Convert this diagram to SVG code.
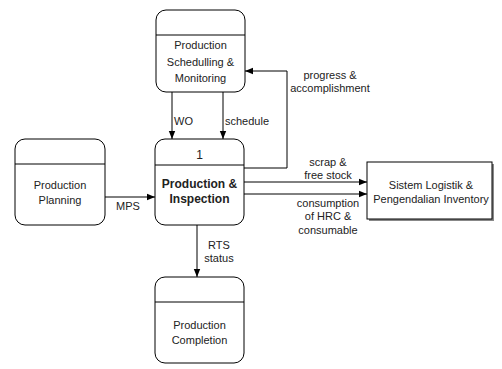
<svg xmlns="http://www.w3.org/2000/svg" width="502" height="369" viewBox="0 0 502 369">
<defs>
<marker id="ah" viewBox="0 0 10 10" refX="10" refY="5" markerWidth="8" markerHeight="8" markerUnits="userSpaceOnUse" orient="auto"><path d="M0,1 L10,5 L0,9 Z" fill="#000"/></marker>
</defs>
<style>
.box{fill:#fff;stroke:#000;stroke-width:1}
.t{font-family:"Liberation Sans",Arial,sans-serif;font-size:11px;fill:#222;text-anchor:middle}
.s{text-anchor:start}
.b{font-weight:bold;font-size:12px}
.c{fill:none;stroke:#000;stroke-width:1;marker-end:url(#ah)}
</style>
<rect width="502" height="369" fill="#fff"/>
<g id="n-schedule">
<rect class="box" x="156" y="10" width="89" height="82" rx="10"/>
<line x1="156" y1="35" x2="245" y2="35" stroke="#000"/>
<text class="t" x="200.5" y="49">Production</text>
<text class="t" x="200.5" y="66">Schedulling &amp;</text>
<text class="t" x="200.5" y="82">Monitoring</text>
</g>
<g id="n-planning">
<rect class="box" x="15" y="139" width="90" height="86" rx="10"/>
<line x1="15" y1="164" x2="105" y2="164" stroke="#000"/>
<text class="t" x="60" y="189">Production</text>
<text class="t" x="60" y="204">Planning</text>
</g>
<g id="n-production">
<rect class="box" x="155" y="139" width="89" height="86" rx="10"/>
<line x1="155" y1="165" x2="244" y2="165" stroke="#000"/>
<text class="t" x="199.5" y="159" style="font-size:12px">1</text>
<text class="t b" x="199.5" y="188">Production &amp;</text>
<text class="t b" x="199.5" y="203">Inspection</text>
</g>
<g id="n-sistem">
<rect x="369" y="164" width="125" height="57" fill="#888" stroke="none"/>
<rect class="box" x="367" y="162" width="125" height="57"/>
<text class="t" x="431" y="189">Sistem Logistik &amp;</text>
<text class="t" x="431" y="203">Pengendalian Inventory</text>
</g>
<g id="n-completion">
<rect class="box" x="155" y="277" width="89" height="86" rx="10"/>
<line x1="155" y1="302" x2="244" y2="302" stroke="#000"/>
<text class="t" x="199.5" y="329">Production</text>
<text class="t" x="199.5" y="344">Completion</text>
</g>
<g id="connectors">
<path class="c" d="M172,92 V139"/>
<path class="c" d="M223,92 V139"/>
<path class="c" d="M244,168 H287 V71 H245"/>
<path class="c" d="M105,197 H155"/>
<path class="c" d="M244,182 H367"/>
<path class="c" d="M244,194 H367"/>
<path class="c" d="M197,225 V277"/>
<text class="t s" x="174" y="125">WO</text>
<text class="t s" x="225" y="125">schedule</text>
<text class="t" x="330" y="79">progress &amp;</text>
<text class="t" x="330" y="92">accomplishment</text>
<text class="t" x="128" y="210">MPS</text>
<text class="t" x="328" y="166">scrap &amp;</text>
<text class="t" x="328" y="179">free stock</text>
<text class="t" x="328" y="207">consumption</text>
<text class="t" x="328" y="220">of HRC &amp;</text>
<text class="t" x="328" y="234">consumable</text>
<text class="t" x="219" y="249">RTS</text>
<text class="t" x="219" y="262">status</text>
</g>
</svg>
